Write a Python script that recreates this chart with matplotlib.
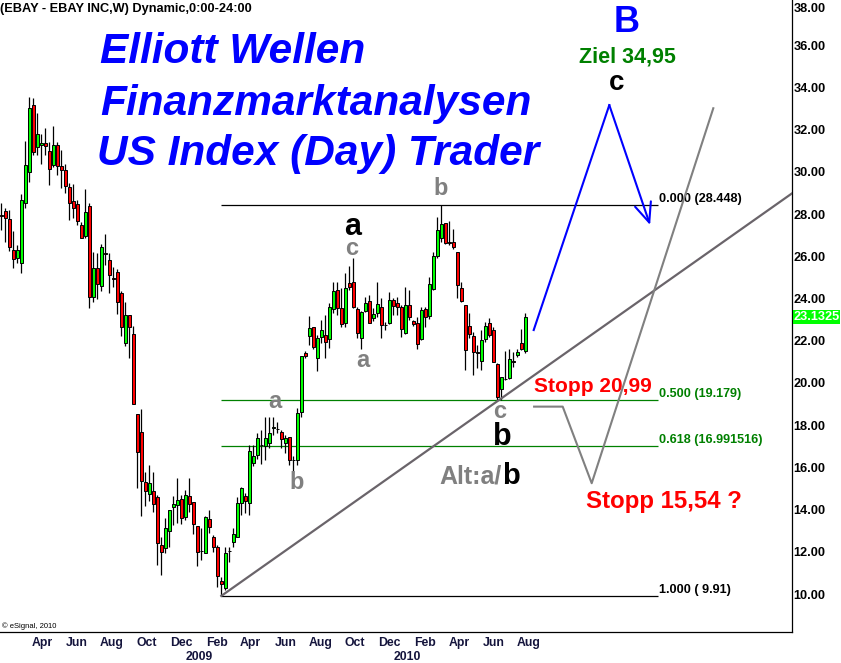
import numpy as np
import pandas as pd
import matplotlib
matplotlib.use("Agg")
import matplotlib.pyplot as plt
import matplotlib.transforms as mtransforms

# weekly EBAY candles, first bar week of 2008-01-21
start_week = "2008-01-21"
opens = [27.95, 28.17, 27.76, 26.30, 25.91, 25.70, 28.52, 29.99, 33.17, 31.17,
         31.26, 31.36, 31.00, 30.33, 31.28, 30.28, 30.09, 29.30, 28.63, 28.47,
         27.49, 26.98, 28.39, 24.09, 25.44, 24.60, 26.15, 25.83, 24.98, 25.24,
         24.25, 21.91, 23.22, 22.32, 18.53, 17.66, 15.32, 14.72, 14.90, 14.58,
         12.32, 12.19, 13.00, 14.11, 14.22, 14.50, 13.66, 14.64, 14.36, 13.22,
         12.05, 11.96, 13.54, 12.69, 12.24, 10.62, 10.27, 12.03, 12.48, 12.72,
         14.30, 14.64, 14.30, 16.22, 16.59, 17.04, 17.03, 17.17, 17.88, 17.84,
         17.66, 17.14, 17.43, 16.36, 16.35, 18.64, 21.41, 22.24, 22.67, 21.17,
         22.17, 22.27, 22.07, 23.49, 24.41, 23.57, 22.86, 24.73, 24.80, 23.49,
         22.12, 23.43, 23.89, 23.07, 23.30, 23.62, 22.76, 22.86, 23.93, 23.78,
         23.62, 22.36, 23.70, 22.94, 22.83, 22.07, 23.49, 23.18, 24.44, 26.02,
         26.86, 27.57, 26.66, 26.70, 26.22, 24.49, 23.70, 22.70, 22.23, 21.45,
         21.06, 22.07, 22.83, 22.51, 20.90, 19.70, 20.19, 20.22, 21.02, 21.33,
         21.88, 21.53]
highs = [28.53, 28.28, 28.20, 27.22, 26.54, 28.96, 31.48, 33.57, 33.49, 32.78,
         31.80, 32.07, 31.44, 32.18, 31.44, 31.04, 30.38, 29.46, 29.43, 28.67,
         27.65, 29.18, 28.52, 26.22, 26.18, 26.59, 27.06, 26.15, 25.51, 25.38,
         24.37, 23.85, 23.22, 22.70, 18.53, 18.77, 15.77, 16.11, 15.77, 14.69,
         12.72, 13.59, 13.98, 14.66, 15.50, 14.69, 14.93, 15.50, 14.36, 13.22,
         13.13, 13.70, 13.98, 12.80, 12.32, 10.82, 12.24, 12.24, 13.13, 14.61,
         15.09, 14.77, 17.06, 17.06, 17.62, 17.77, 18.40, 18.40, 18.40, 18.17,
         17.77, 17.54, 17.43, 16.54, 18.83, 21.28, 21.50, 23.18, 22.67, 22.27,
         22.99, 23.22, 23.78, 24.77, 24.80, 24.49, 25.23, 25.55, 25.91, 23.62,
         23.43, 24.09, 24.17, 23.54, 24.80, 24.01, 22.91, 24.33, 24.01, 24.06,
         23.70, 24.56, 24.41, 23.00, 23.14, 23.62, 23.62, 25.01, 26.22, 27.88,
         28.448, 27.57, 27.69, 27.28, 26.22, 24.80, 23.70, 23.33, 22.43, 21.80,
         22.51, 22.91, 23.07, 22.67, 20.96, 20.30, 21.52, 21.60, 21.48, 21.61,
         22.54, 23.33]
lows = [27.25, 26.70, 26.27, 25.44, 25.67, 25.20, 28.28, 29.54, 30.81, 30.81,
        30.38, 30.81, 29.38, 30.25, 29.86, 29.23, 28.99, 27.73, 27.81, 27.49,
        26.86, 26.89, 23.54, 23.86, 23.97, 24.37, 25.59, 24.28, 24.54, 23.27,
        22.23, 21.75, 21.20, 18.99, 15.04, 13.71, 14.17, 14.41, 13.90, 11.37,
        10.90, 11.96, 12.24, 13.27, 13.36, 13.32, 13.51, 13.90, 12.83, 11.34,
        11.61, 11.96, 12.88, 12.00, 10.35, 9.91, 10.19, 11.53, 12.24, 12.69,
        13.74, 13.82, 13.74, 16.08, 16.38, 16.16, 16.35, 16.91, 17.54, 17.62,
        16.91, 16.67, 16.11, 15.72, 16.11, 18.40, 21.20, 21.80, 21.60, 20.58,
        21.88, 21.17, 21.67, 23.30, 23.22, 22.64, 22.67, 24.41, 23.54, 22.12,
        21.60, 23.38, 22.83, 22.95, 23.14, 22.12, 22.51, 22.80, 23.22, 23.22,
        22.19, 22.33, 22.99, 22.70, 21.60, 22.04, 22.64, 23.03, 24.41, 25.91,
        26.70, 26.57, 26.54, 26.34, 24.01, 23.86, 20.62, 22.12, 20.38, 20.70,
        20.62, 21.96, 22.17, 21.01, 19.20, 19.19, 20.14, 20.18, 20.77, 21.25,
        21.56, 21.44]
closes = [27.90, 27.81, 26.46, 25.86, 26.30, 28.67, 30.33, 33.02, 30.96, 31.80,
          31.36, 31.23, 30.13, 31.28, 30.28, 30.09, 29.34, 28.52, 28.28, 27.69,
          26.89, 28.09, 24.06, 25.44, 24.68, 26.43, 26.10, 25.10, 24.95, 23.86,
          22.64, 23.22, 22.64, 18.99, 16.74, 15.37, 14.90, 15.25, 14.25, 12.40,
          12.00, 13.11, 13.98, 14.27, 14.45, 13.62, 14.69, 14.25, 13.30, 12.00,
          12.02, 13.64, 13.19, 12.24, 10.87, 10.47, 11.93, 12.06, 12.84, 14.31,
          15.04, 14.42, 16.79, 16.54, 17.38, 17.05, 17.38, 17.64, 17.90, 17.82,
          17.33, 17.38, 16.35, 16.34, 18.56, 21.28, 21.30, 22.59, 21.72, 22.12,
          22.51, 21.96, 23.59, 24.37, 23.57, 22.80, 24.49, 24.57, 23.62, 22.36,
          23.38, 23.78, 22.86, 23.27, 23.73, 22.75, 22.74, 23.93, 23.65, 23.62,
          22.54, 23.70, 23.14, 22.80, 21.85, 23.46, 23.11, 24.69, 26.02, 27.25,
          27.54, 26.65, 26.64, 26.43, 24.64, 23.89, 21.56, 22.32, 21.48, 21.42,
          22.04, 22.70, 22.27, 21.01, 19.32, 20.30, 20.17, 21.12, 21.00, 21.48,
          21.60, 23.1325]

last_price = 23.1325
fib_low = 9.91
fib_high = 28.448
fib_ratios = [0.0, 0.5, 0.618, 1.0]
fib_labels = ["0.000 (28.448)", "0.500 (19.179)", "0.618 (16.991516)", "1.000 ( 9.91)"]
fib_colors = ["black", "#008000", "#008000", "black"]

plt.rcParams['font.family'] = ['Liberation Sans', 'DejaVu Sans']

o = np.array(opens)
h = np.array(highs)
l = np.array(lows)
c = np.array(closes)
x = np.arange(len(o))
weeks = pd.date_range(start_week, periods=len(o), freq='7D')

fig = plt.figure(figsize=(8.41, 6.63), dpi=100)
ax = fig.add_axes([0, 31 / 663, 792 / 841, 632 / 663])

# candles
body_col = np.where(c > o, '#00ff00', '#ff0000')
ax.vlines(x, l, h, color='black', lw=0.9, zorder=3)
ax.bar(x, np.abs(c - o), bottom=np.minimum(o, c), width=0.8, color=body_col,
       edgecolor='black', linewidth=0.7, zorder=4)

# fibonacci retracement
fib_levels = [fib_high - r * (fib_high - fib_low) for r in fib_ratios]
ax.hlines(fib_levels, 55, 164.1, colors=fib_colors, lw=0.9, zorder=2)
for lev, lab, col in zip(fib_levels, fib_labels, fib_colors):
    ax.text(164.4, lev + 0.15, lab, color=col, fontsize=9.1, fontweight='bold',
            ha='left', va='baseline')

# trend line from the low, gray scenario, blue scenario
ax.plot([55, 197.7], [9.91, 28.99], color='#6a646a', lw=1.6, zorder=5)
ax.plot([133.2, 140.35, 147.6, 178.0], [18.88, 18.88, 15.25, 33.02],
        color='#808080', lw=1.5, zorder=5)
ax.plot([133.1, 152.0], [22.51, 33.17], color='#0000ff', lw=1.5, zorder=5)
ax.annotate('', xy=(162.2, 27.49), xytext=(152.0, 33.17),
            arrowprops=dict(arrowstyle='->,head_length=1.4,head_width=0.6',
                            color='#0000ff', lw=1.5, shrinkA=0, shrinkB=0),
            zorder=5)

# titles
for txt, xx, yy in [("Elliott Wellen", 24.7, 35.15),
                    ("Finanzmarktanalysen", 24.7, 32.70),
                    ("US Index (Day) Trader", 23.9, 30.33)]:
    ax.text(xx, yy, txt, color='#0000ff', fontsize=30.5, fontweight='bold',
            fontstyle='italic', ha='left', va='baseline')

# wave labels
gray = '#808080'
ax.text(156.3, 36.65, "B", color='#0000ff', fontsize=26, fontweight='bold', ha='center', va='baseline')
ax.text(156.5, 35.18, "Ziel 34,95", color='#008000', fontsize=15.5, fontweight='bold', ha='center', va='baseline')
ax.text(153.9, 33.87, "c", color='black', fontsize=20, fontweight='bold', ha='center', va='baseline')
ax.text(109.9, 28.91, "b", color=gray, fontsize=17, fontweight='bold', ha='center', va='baseline')
ax.text(87.9, 27.01, "a", color='black', fontsize=22, fontweight='bold', ha='center', va='baseline')
ax.text(87.6, 26.07, "c", color=gray, fontsize=17, fontweight='bold', ha='center', va='baseline')
ax.text(90.5, 20.77, "a", color=gray, fontsize=17, fontweight='bold', ha='center', va='baseline')
ax.text(68.5, 18.82, "a", color=gray, fontsize=17, fontweight='bold', ha='center', va='baseline')
ax.text(73.9, 14.98, "b", color=gray, fontsize=17, fontweight='bold', ha='center', va='baseline')
ax.text(124.7, 18.33, "c", color=gray, fontsize=17, fontweight='bold', ha='center', va='baseline')
ax.text(125.2, 17.06, "b", color='black', fontsize=22, fontweight='bold', ha='center', va='baseline')
ax.text(125.1, 15.22, "Alt:a/", color=gray, fontsize=18, fontweight='bold', ha='right', va='baseline')
ax.text(125.1, 15.22, "b", color='black', fontsize=21, fontweight='bold', ha='left', va='baseline')
ax.text(133.2, 19.56, "Stopp 20,99", color='#ff0000', fontsize=15, fontweight='bold', ha='left', va='baseline')
ax.text(146.1, 14.06, "Stopp 15,54 ?", color='#ff0000', fontsize=17.3, fontweight='bold', ha='left', va='baseline')

# axes
ax.set_xlim(-0.325, 197.675)
ax.set_ylim(8.2, 38.15)
for side in ['top', 'left']:
    ax.spines[side].set_visible(False)
for side in ['right', 'bottom']:
    ax.spines[side].set_linewidth(0.9)
    ax.spines[side].set_color('black')

months = pd.date_range('2008-04-01', '2010-08-01', freq='2MS')
years = pd.to_datetime(['2009-01-01', '2010-01-01'])
ax.set_xticks((months - weeks[0]).days / 7, [m.strftime('%b') for m in months])
ax.set_xticks((years - weeks[0]).days / 7, [str(y.year) for y in years], minor=True)
ax.tick_params(axis='x', which='both', length=0, labelsize=8.8, labelcolor='#14143c')
ax.tick_params(axis='x', which='major', pad=3.5)
ax.tick_params(axis='x', which='minor', pad=14.0)
for lab in ax.get_xticklabels(which='both'):
    lab.set_fontweight('bold')

ax.yaxis.tick_right()
yt = np.arange(10, 39, 2)
ax.set_yticks(yt, ['%.2f' % v for v in yt])
ax.tick_params(axis='y', length=0, pad=1, labelsize=9.2, labelcolor='black')
for lab in ax.get_yticklabels():
    lab.set_fontweight('bold')
ax.get_yticklabels()[-1].set_va('top')

trans = mtransforms.blended_transform_factory(ax.transAxes, ax.transData)
ax.text(1.0015, last_price, "%.4f" % last_price, transform=trans, color='white',
        fontsize=9.2, fontweight='bold', ha='left', va='center',
        bbox=dict(facecolor='#00ff00', edgecolor='none', boxstyle='square,pad=0.05'))

fig.text(0.0, 1 - 11.7 / 663, "(EBAY - EBAY INC,W) Dynamic,0:00-24:00",
         fontsize=9.2, fontweight='bold', ha='left', va='baseline')
fig.text(2 / 841, 1 - 628 / 663, "\u00a9 eSignal, 2010", fontsize=5.5,
         ha='left', va='baseline')

fig.savefig('out.png', dpi=100)
